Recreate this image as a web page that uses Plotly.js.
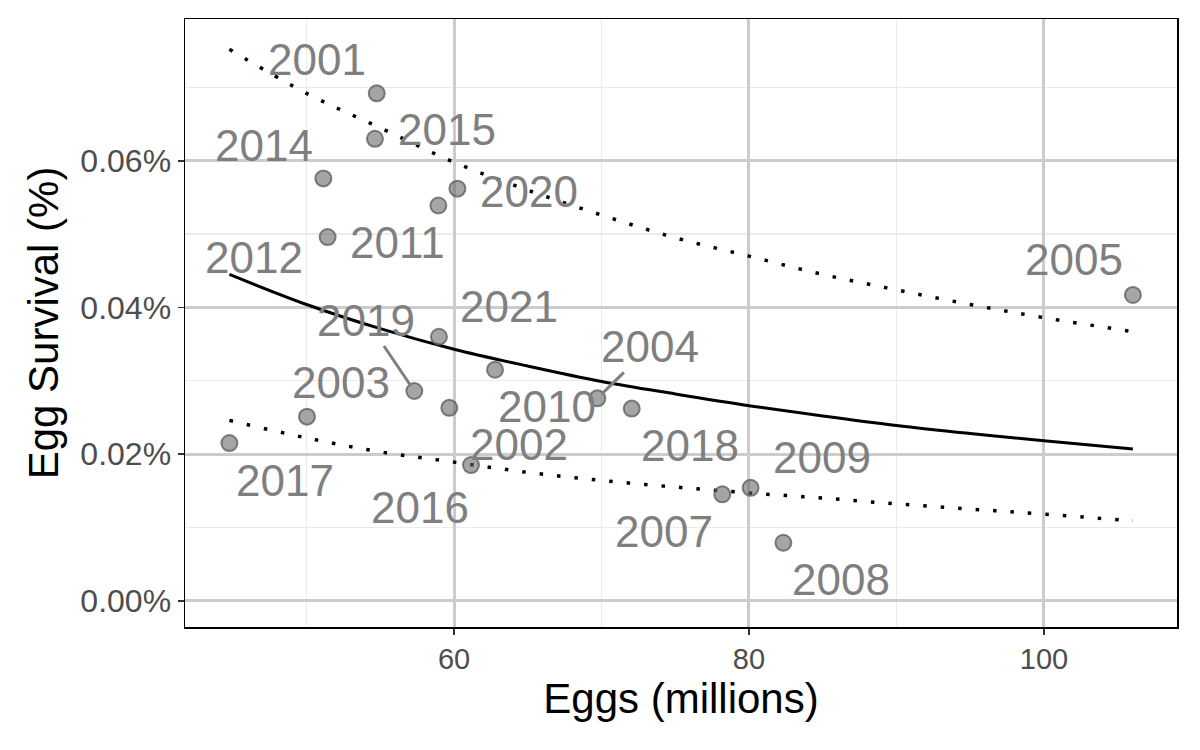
<!DOCTYPE html>
<html>
<head>
<meta charset="utf-8">
<script src="https://cdn.plot.ly/plotly-3.0.1.min.js"></script>
<style>
  html, body { margin: 0; padding: 0; background: #ffffff; }
  #chart { width: 1200px; height: 750px; }
</style>
</head>
<body>
<div id="chart"></div>
<script>
// Spawning years with egg deposition (millions) and egg-to-recruit survival (%)
const years    = ['2001', '2002', '2003', '2004', '2005', '2007', '2008', '2009', '2010', '2011',
                  '2012', '2014', '2015', '2016', '2017', '2018', '2019', '2020', '2021'];
const eggs     = [54.76, 59.68, 50.03, 69.72, 106.03, 78.19, 82.33, 80.11, 62.78, 58.94,
                  51.43, 51.14, 54.64, 61.15, 44.77, 72.05, 57.31, 60.23, 58.98];
const survival = [0.0692, 0.0263, 0.0251, 0.0276, 0.0417, 0.0145, 0.0079, 0.0154, 0.0315, 0.0539,
                  0.0496, 0.0576, 0.0630, 0.0185, 0.0215, 0.0262, 0.0286, 0.0562, 0.0360];

// Fitted survival curve with its lower and upper bounds
const fitEggs  = [44.77, 50, 55, 60, 65, 70, 75, 80, 85, 90, 95, 100, 106.03];
const fitMid   = [0.0445, 0.0404, 0.0371, 0.0343, 0.0320, 0.0299, 0.0282, 0.0266, 0.0252, 0.0239, 0.0228, 0.0218, 0.0207];
const fitUpper = [0.0752, 0.0692, 0.0645, 0.0598, 0.0560, 0.0526, 0.0495, 0.0470, 0.0445, 0.0424, 0.0404, 0.0386, 0.0367];
const fitLower = [0.0246, 0.0222, 0.0203, 0.0189, 0.0175, 0.0164, 0.0155, 0.0147, 0.0140, 0.0132, 0.0125, 0.0118, 0.0109];

// Label placement: pixel offset of each year label from its point
const labelDX = [-60, 70, 34, 53, -59, -58, 58, 71, 52, -41, -74, -59, 72, -51, 56, 58, -48, 72, 70];
const labelDY = [-34, 37, -34, -52, -35, 37, 37, -30, 37, 37, 20, -33, -9, 42, 37, 37, -71, 3, -30];
const withLeader = ['2019', '2004'];

const FONT = 'Liberation Sans, Arial, Helvetica, sans-serif';
const LABEL_GREY = '#7f7f7f';

const traces = [
  {
    x: fitEggs, y: fitUpper, type: 'scatter', mode: 'lines',
    line: { color: '#000000', width: 3.5, dash: '3.5px,14px', shape: 'spline' },
    hoverinfo: 'skip', showlegend: false
  },
  {
    x: fitEggs, y: fitLower, type: 'scatter', mode: 'lines',
    line: { color: '#000000', width: 3.5, dash: '3.5px,14px', shape: 'spline' },
    hoverinfo: 'skip', showlegend: false
  },
  {
    x: fitEggs, y: fitMid, type: 'scatter', mode: 'lines',
    line: { color: '#000000', width: 3, shape: 'spline' },
    hoverinfo: 'skip', showlegend: false
  },
  {
    x: eggs, y: survival, text: years, type: 'scatter', mode: 'markers',
    marker: {
      size: 16,
      color: 'rgba(100,100,100,0.58)',
      line: { color: 'rgba(90,90,90,0.75)', width: 2 }
    },
    showlegend: false
  }
];

const annotations = years.map((yr, i) => {
  const leader = withLeader.includes(yr);
  const base = {
    x: eggs[i], y: survival[i], xref: 'x', yref: 'y',
    text: yr,
    font: { family: FONT, size: 44, color: LABEL_GREY }
  };
  if (leader) {
    return Object.assign(base, {
      showarrow: true, arrowhead: 0, arrowwidth: 3, arrowcolor: LABEL_GREY,
      ax: labelDX[i], ay: labelDY[i], axref: 'pixel', ayref: 'pixel', standoff: 6
    });
  }
  return Object.assign(base, { showarrow: false, xshift: labelDX[i], yshift: -labelDY[i] });
});

const axisCommon = {
  showline: true, mirror: true, linecolor: '#000000', linewidth: 1.5,
  ticks: 'outside', ticklen: 6, tickwidth: 1.8, tickcolor: '#333333',
  gridcolor: '#cccccc', gridwidth: 3,
  zeroline: false
};

const layout = {
  width: 1200, height: 750,
  paper_bgcolor: '#ffffff', plot_bgcolor: '#ffffff',
  margin: { l: 185, r: 23, t: 19, b: 123 },
  showlegend: false,
  annotations: annotations,
  xaxis: Object.assign({}, axisCommon, {
    range: [41.76, 109.02], tick0: 0, dtick: 20,
    tickfont: { family: FONT, size: 29, color: '#4d4d4d' },
    minor: { dtick: 10, showgrid: true, gridcolor: '#ebebeb', gridwidth: 1.5 },
    title: { text: 'Eggs (millions)', font: { family: FONT, size: 42, color: '#000000' }, standoff: 8 }
  }),
  yaxis: Object.assign({}, axisCommon, {
    range: [-0.00359, 0.07934], tick0: 0, dtick: 0.02,
    tickformat: '.2f', ticksuffix: '%',
    tickfont: { family: FONT, size: 32, color: '#4d4d4d' },
    minor: { dtick: 0.01, showgrid: true, gridcolor: '#ebebeb', gridwidth: 1.5 },
    title: { text: 'Egg Survival (%)', font: { family: FONT, size: 42, color: '#000000' }, standoff: 8 }
  })
};

Plotly.newPlot('chart', traces, layout, { staticPlot: true, displayModeBar: false });
</script>
</body>
</html>
